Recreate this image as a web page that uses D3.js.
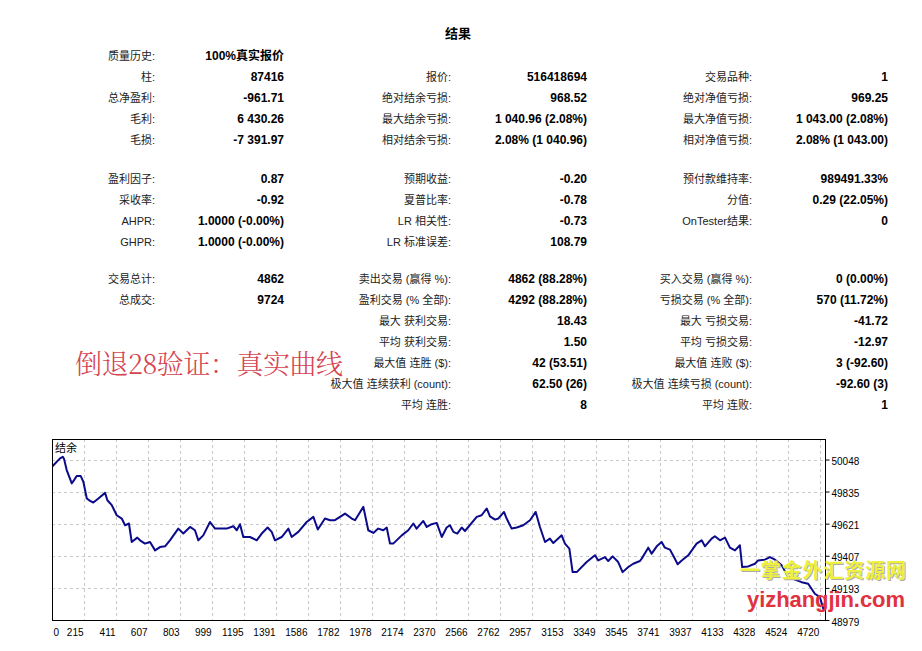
<!DOCTYPE html>
<meta charset="utf-8">

<style>

body {
  margin: 0;
  background: #fff;
}

svg text {
  font-family: "Liberation Sans", "Noto Sans CJK SC", sans-serif;
}

svg text.lbl {
  font-size: 11px;
  fill: #222;
  text-anchor: end;
}

svg text.val {
  font-size: 12px;
  font-weight: bold;
  fill: #000;
  text-anchor: end;
}

svg .axis text {
  font-size: 10px;
  fill: #000;
}

svg .grid line {
  stroke: #c9c9c9;
  stroke-dasharray: 3,3;
}

</style>


<svg class="report" width="922" height="651"></svg>


<script src="https://d3js.org/d3.v7.min.js"></script>

<script>

// report table: [section, row, label, value]
var col1Rows = [
  [0, 0, "质量历史:", "100%真实报价"],
  [0, 1, "柱:", "87416"],
  [0, 2, "总净盈利:", "-961.71"],
  [0, 3, "毛利:", "6 430.26"],
  [0, 4, "毛损:", "-7 391.97"],
  [1, 0, "盈利因子:", "0.87"],
  [1, 1, "采收率:", "-0.92"],
  [1, 2, "AHPR:", "1.0000 (-0.00%)"],
  [1, 3, "GHPR:", "1.0000 (-0.00%)"],
  [2, 0, "交易总计:", "4862"],
  [2, 1, "总成交:", "9724"]
];

var col2Rows = [
  [0, 1, "报价:", "516418694"],
  [0, 2, "绝对结余亏损:", "968.52"],
  [0, 3, "最大结余亏损:", "1 040.96 (2.08%)"],
  [0, 4, "相对结余亏损:", "2.08% (1 040.96)"],
  [1, 0, "预期收益:", "-0.20"],
  [1, 1, "夏普比率:", "-0.78"],
  [1, 2, "LR 相关性:", "-0.73"],
  [1, 3, "LR 标准误差:", "108.79"],
  [2, 0, "卖出交易 (赢得 %):", "4862 (88.28%)"],
  [2, 1, "盈利交易 (% 全部):", "4292 (88.28%)"],
  [2, 2, "最大 获利交易:", "18.43"],
  [2, 3, "平均 获利交易:", "1.50"],
  [2, 4, "最大值 连胜 ($):", "42 (53.51)"],
  [2, 5, "极大值 连续获利 (count):", "62.50 (26)"],
  [2, 6, "平均 连胜:", "8"]
];

var col3Rows = [
  [0, 1, "交易品种:", "1"],
  [0, 2, "绝对净值亏损:", "969.25"],
  [0, 3, "最大净值亏损:", "1 043.00 (2.08%)"],
  [0, 4, "相对净值亏损:", "2.08% (1 043.00)"],
  [1, 0, "预付款维持率:", "989491.33%"],
  [1, 1, "分值:", "0.29 (22.05%)"],
  [1, 2, "OnTester结果:", "0"],
  [2, 0, "买入交易 (赢得 %):", "0 (0.00%)"],
  [2, 1, "亏损交易 (% 全部):", "570 (11.72%)"],
  [2, 2, "最大 亏损交易:", "-41.72"],
  [2, 3, "平均 亏损交易:", "-12.97"],
  [2, 4, "最大值 连败 ($):", "3 (-92.60)"],
  [2, 5, "极大值 连续亏损 (count):", "-92.60 (3)"],
  [2, 6, "平均 连败:", "1"]
];

// balance curve (trade number, balance)
var tradeIdx = [
  19, 68, 85, 93, 109, 140, 154, 170, 195, 211,
  232, 252, 272, 303, 344, 358, 385, 415, 446, 466,
  490, 507, 541, 558, 588, 619, 650, 680, 711, 741,
  792, 823, 864, 894, 915, 945, 986, 1017, 1047, 1088,
  1129, 1150, 1170, 1190, 1231, 1272, 1303, 1339, 1364, 1384,
  1425, 1466, 1486, 1527, 1578, 1619, 1646, 1690, 1721, 1751,
  1813, 1854, 1874, 1925, 1955, 1986, 2016, 2047, 2068, 2088,
  2108, 2160, 2200, 2231, 2251, 2292, 2313, 2343, 2374, 2405,
  2435, 2455, 2476, 2500, 2527, 2547, 2619, 2649, 2680, 2700,
  2731, 2751, 2786, 2802, 2833, 2864, 2904, 2945, 2980, 3006,
  3037, 3067, 3088, 3139, 3159, 3186, 3206, 3231, 3292, 3343,
  3363, 3404, 3424, 3451, 3485, 3512, 3547, 3577, 3618, 3629,
  3669, 3690, 3721, 3751, 3771, 3802, 3828, 3849, 3874, 3914,
  3965, 3996, 4016, 4057, 4077, 4108, 4139, 4169, 4200, 4230,
  4244, 4281, 4322, 4342, 4383, 4414, 4445, 4486, 4526, 4608,
  4648, 4689, 4720, 4745
];

var balance = [
  50000, 50056, 50066, 50051, 49978, 49889, 49911, 49938, 49938, 49900,
  49789, 49773, 49762, 49789, 49826, 49777, 49744, 49677, 49655, 49610,
  49622, 49499, 49528, 49510, 49488, 49499, 49443, 49465, 49470, 49510,
  49588, 49555, 49599, 49577, 49510, 49543, 49632, 49588, 49588, 49588,
  49604, 49577, 49617, 49532, 49532, 49510, 49555, 49595, 49566, 49510,
  49532, 49588, 49532, 49566, 49632, 49666, 49582, 49655, 49644, 49644,
  49688, 49655, 49644, 49733, 49577, 49559, 49588, 49577, 49595, 49488,
  49488, 49543, 49577, 49622, 49588, 49639, 49599, 49617, 49626, 49532,
  49595, 49610, 49566, 49555, 49595, 49572, 49666, 49677, 49722, 49670,
  49648, 49655, 49699, 49655, 49588, 49595, 49610, 49644, 49699, 49599,
  49499, 49521, 49492, 49543, 49488, 49455, 49298, 49298, 49365, 49410,
  49376, 49398, 49372, 49403, 49365, 49298, 49332, 49354, 49372, 49388,
  49461, 49421, 49470, 49499, 49461, 49448, 49395, 49350, 49376, 49410,
  49488, 49510, 49470, 49521, 49537, 49510, 49528, 49461, 49443, 49477,
  49332, 49336, 49354, 49376, 49381, 49398, 49381, 49343, 49265, 49231,
  49221, 49154, 49131, 49038
];

var xTicks = [0, 215, 411, 607, 803, 999, 1195, 1391, 1586, 1782, 1978, 2174, 2370,
  2566, 2762, 2957, 3153, 3349, 3545, 3741, 3937, 4133, 4328, 4524, 4720];
var yTicks = [48979, 49193, 49407, 49621, 49835, 50048];

var svg = d3.select("svg.report");

// ---- title + table ----
svg.append("text")
  .attr("x", 458)
  .attr("y", 38)
  .attr("text-anchor", "middle")
  .style("font-size", "13px")
  .style("font-weight", "bold")
  .text("结果");

var sectionTop = [56, 179, 279];
var rowStep = 21;
var columns = [
  {rows: col1Rows, labelX: 155, valueX: 284},
  {rows: col2Rows, labelX: 451, valueX: 587},
  {rows: col3Rows, labelX: 752, valueX: 888}
];

columns.forEach(function(col) {
  var g = svg.append("g");
  var rows = g.selectAll("g").data(col.rows).enter().append("g")
    .attr("transform", function(d) {
      return "translate(0," + (sectionTop[d[0]] + d[1] * rowStep + 4) + ")";
    });
  rows.append("text").attr("class", "lbl").attr("x", col.labelX).text(function(d) { return d[2]; });
  rows.append("text").attr("class", "val").attr("x", col.valueX).text(function(d) { return d[3]; });
});

// ---- balance chart ----
var frame = {left: 52, top: 439, right: 825, bottom: 620};

var x = d3.scaleLinear()
  .domain([19, 4751])
  .range([frame.left, frame.right]);

var y = d3.scaleLinear()
  .domain([48979, 50185])
  .range([frame.bottom, frame.top]);

var chart = svg.append("g");

chart.append("clipPath").attr("id", "plot-clip")
  .append("rect")
  .attr("x", frame.left).attr("y", frame.top)
  .attr("width", frame.right - frame.left)
  .attr("height", frame.bottom - frame.top);

// grid
var grid = chart.append("g").attr("class", "grid");
grid.selectAll("line.v").data(xTicks.slice(1)).enter().append("line")
  .attr("class", "v")
  .attr("x1", function(d) { return Math.round(x(d)) + 0.5; })
  .attr("x2", function(d) { return Math.round(x(d)) + 0.5; })
  .attr("y1", frame.top)
  .attr("y2", frame.bottom);
grid.selectAll("line.h").data(yTicks.slice(1)).enter().append("line")
  .attr("class", "h")
  .attr("x1", frame.left)
  .attr("x2", frame.right)
  .attr("y1", function(d) { return Math.round(y(d)) + 0.5; })
  .attr("y2", function(d) { return Math.round(y(d)) + 0.5; });

// curve
var points = tradeIdx.map(function(t, i) { return [t, balance[i]]; });
chart.append("path")
  .datum(points)
  .attr("clip-path", "url(#plot-clip)")
  .attr("fill", "none")
  .attr("stroke", "#0a0a8a")
  .attr("stroke-width", 2)
  .attr("stroke-linejoin", "round")
  .attr("d", d3.line()
    .x(function(d) { return x(d[0]); })
    .y(function(d) { return y(d[1]); }));

// frame
chart.append("rect")
  .attr("x", frame.left + 0.5).attr("y", frame.top + 0.5)
  .attr("width", frame.right - frame.left)
  .attr("height", frame.bottom - frame.top)
  .attr("fill", "none")
  .attr("stroke", "#000");

chart.append("text")
  .attr("x", frame.left + 3)
  .attr("y", frame.top + 13)
  .style("font-size", "11px")
  .text("结余");

// x axis
var xAxis = chart.append("g")
  .attr("class", "axis")
  .attr("transform", "translate(0," + frame.bottom + ")")
  .call(d3.axisBottom(x).tickValues(xTicks).tickSize(0).tickPadding(9).tickFormat(d3.format("d")));
xAxis.select(".domain").remove();
xAxis.selectAll(".tick text")
  .attr("text-anchor", function(d) { return d === 0 ? "start" : "end"; })
  .attr("x", function(d) { return d === 0 ? frame.left + 1 - x(0) : -1; });

// y axis
var yAxis = chart.append("g")
  .attr("class", "axis")
  .attr("transform", "translate(" + (frame.right + 0.5) + ",0)")
  .call(d3.axisRight(y).tickValues(yTicks).tickSize(4).tickPadding(2).tickFormat(d3.format("d")));
yAxis.select(".domain").remove();
yAxis.selectAll(".tick text").attr("dy", "0.5em");

// ---- overlay captions ----
svg.append("text")
  .attr("x", 75)
  .attr("y", 374)
  .attr("textLength", 268)
  .style("font-family", "'Noto Serif CJK SC', 'Noto Sans CJK SC', serif")
  .style("font-size", "27px")
  .style("font-weight", "300")
  .style("fill", "#d5434f")
  .text("倒退28验证：真实曲线");

svg.append("text")
  .attr("x", 741)
  .attr("y", 579)
  .attr("textLength", 166)
  .style("font-family", "'Noto Sans CJK SC', sans-serif")
  .style("font-size", "20px")
  .style("font-weight", "bold")
  .style("fill", "#aaa")
  .text("一掌金外汇资源网");
svg.append("text")
  .attr("x", 740)
  .attr("y", 578)
  .attr("textLength", 166)
  .style("font-family", "'Noto Sans CJK SC', sans-serif")
  .style("font-size", "20px")
  .style("font-weight", "bold")
  .style("fill", "#eef03a")
  .text("一掌金外汇资源网");

svg.append("text")
  .attr("x", 747)
  .attr("y", 607)
  .attr("textLength", 158)
  .style("font-family", "'Liberation Sans', sans-serif")
  .style("font-size", "22px")
  .style("font-weight", "bold")
  .style("fill", "#e0323f")
  .text("yizhangjin.com");

</script>
